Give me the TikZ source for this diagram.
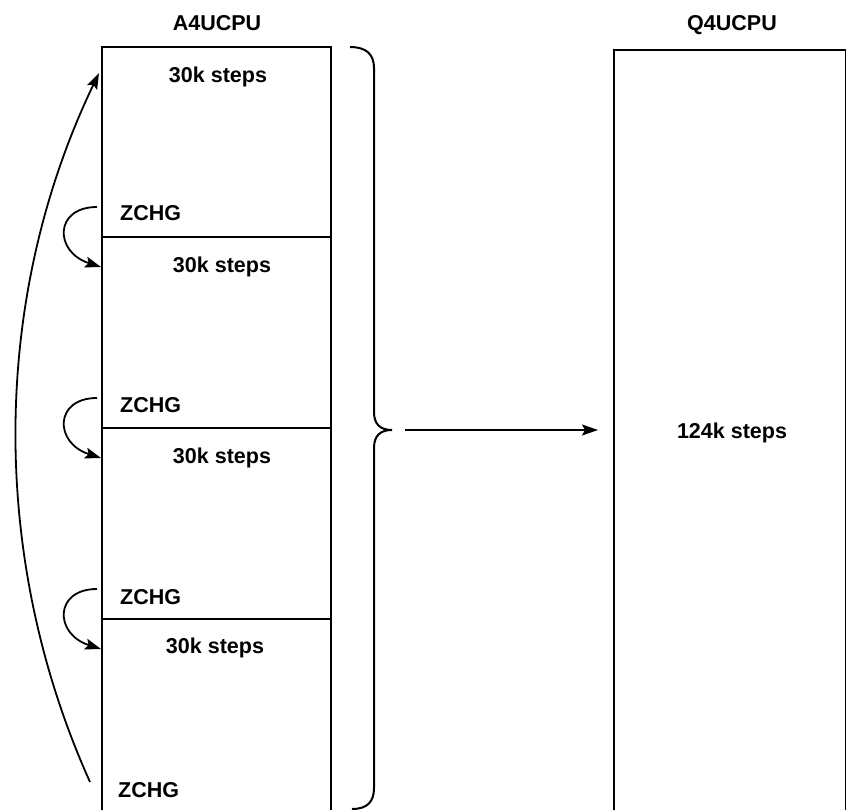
\documentclass[tikz,border=0pt]{standalone}
\usepackage{fontspec}
\setmainfont{Liberation Sans}
\usetikzlibrary{arrows.meta,calc}
\begin{document}
\begin{tikzpicture}[x=1pt,y=-1pt,
  sec/.style={draw,line width=2pt,minimum width=229pt,minimum height=191pt,inner sep=0pt,outer sep=0pt,anchor=north west},
  lbl/.style={font=\fontsize{21.5}{24}\selectfont\bfseries,inner sep=0pt},
  ln/.style={line width=2pt},
  arr/.style={line width=1.8pt,-{Stealth[length=16pt,width=11pt,inset=3pt]}}]
\useasboundingbox (0,0) rectangle (846,810);
% A4UCPU sections
\node[sec,minimum height=190pt] (s1) at (102,47) {};
\node[sec] (s2) at (102,237) {};
\node[sec] (s3) at (102,428) {};
\node[sec,minimum height=200pt] (s4) at (102,619) {};
% Q4UCPU box
\node[sec,minimum width=232pt,minimum height=775pt] (q) at (614,50) {};
% labels
\node[lbl] (a4) at (217,23) {A4UCPU};
\node[lbl] (q4) at (732,25) {Q4UCPU};
\node[lbl] (t1) at (218,77) {30k steps};
\node[lbl] (t2) at (222,267) {30k steps};
\node[lbl] (t3) at (222,458) {30k steps};
\node[lbl] (t4) at (215,648) {30k steps};
\node[lbl] (t5) at (732,433) {124k steps};
\node[lbl,anchor=west] (z1) at (120,213) {ZCHG};
\node[lbl,anchor=west] (z2) at (120,405) {ZCHG};
\node[lbl,anchor=west] (z3) at (120,597) {ZCHG};
\node[lbl,anchor=west] (z4) at (118,790) {ZCHG};
% small loop arrows
\foreach \s in {s2,s3,s4}{
  \draw[arr] ($(\s.north west)+(-5,-30)$) .. controls ($(\s.north west)+(-48,-30)$) and ($(\s.north west)+(-48,15)$) .. ($(\s.north west)+(-1,30)$);
}
% big return arrow
\coordinate (bs) at ($(s4.north west)+(-12,163)$);
\coordinate (be) at ($(s1.north west)+(-3,26)$);
\draw[arr] (bs) .. controls (-10,560) and (-10,300) .. (be);
% brace
\coordinate (bt) at (392,430);
\draw[ln] (350,47) .. controls (367,47) and (374,55) .. (374,68) -- (374,412)
  .. controls (374,424) and (380,430) .. (bt)
  .. controls (380,430) and (374,436) .. (374,448) -- (374,788)
  .. controls (374,802) and (367,809) .. (352,809);
% arrow to Q4UCPU
\draw[arr] ($(bt)+(13,0)$) -- ($(q.west |- bt)+(-16,0)$);
\end{tikzpicture}
\end{document}
